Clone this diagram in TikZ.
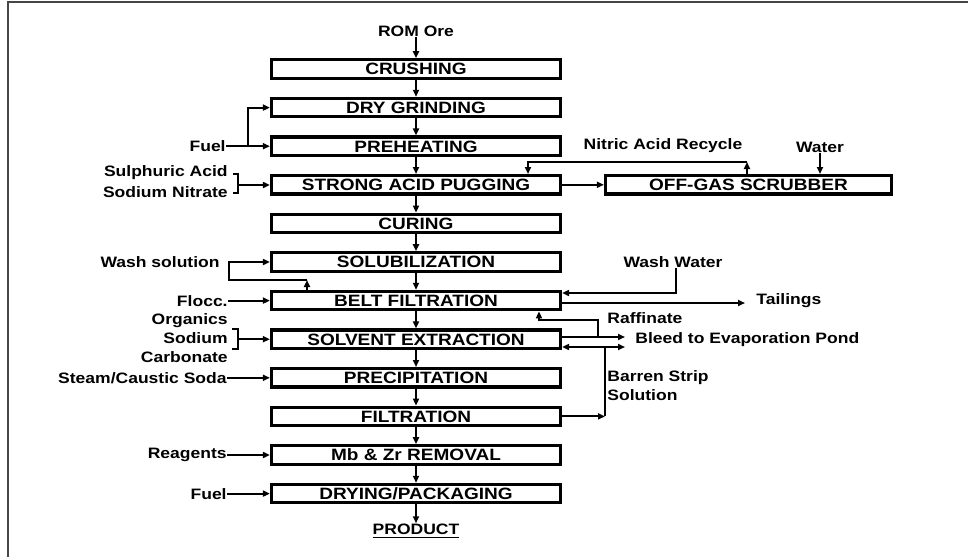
\documentclass[tikz,border=0pt]{standalone}
\usepackage{fontspec}
\setmainfont{Liberation Sans}[FakeStretch=1.16]
\usepackage{xcolor}
\usepackage{tikz}
\usetikzlibrary{arrows.meta,positioning}
\definecolor{cinzaescuro}{RGB}{70,70,70}
\tikzset{
  etapa/.style={rectangle,draw=black,line width=1.6pt,minimum width=144.5pt,
    minimum height=9.2pt,inner sep=0pt,text height=5.9pt,text depth=0pt,
    font=\fontsize{8.2}{9}\selectfont\bfseries},
  rotulo/.style={inner sep=0pt,font=\fontsize{7.55}{9.5}\selectfont\bfseries},
  fluxo/.style={-{Triangle[length=3.5pt,width=3pt]},line width=1pt,black},
  linha/.style={line width=1pt,black}
}
\begin{document}
\begin{tikzpicture}[x=0.5pt,y=-0.5pt]
\useasboundingbox (0,0) rectangle (968,557);
% moldura
\draw[cinzaescuro,line width=1pt] (8,557) -- (8,2) -- (968,2);

% coluna principal
\node[rotulo] (rom) at (416,31) {ROM Ore};
\node[etapa] (crush) at (416,69) {CRUSHING};
\node[etapa] (grind) at (416,107.6) {DRY GRINDING};
\node[etapa] (preheat) at (416,146.2) {PREHEATING};
\node[etapa] (pug) at (416,184.8) {STRONG ACID PUGGING};
\node[etapa] (cure) at (416,223.4) {CURING};
\node[etapa] (solub) at (416,262) {SOLUBILIZATION};
\node[etapa] (belt) at (416,300.6) {BELT FILTRATION};
\node[etapa] (solvent) at (416,339.2) {SOLVENT EXTRACTION};
\node[etapa] (precip) at (416,377.8) {PRECIPITATION};
\node[etapa] (filt) at (416,416.4) {FILTRATION};
\node[etapa] (mbzr) at (416,455) {Mb \& Zr REMOVAL};
\node[etapa] (dry) at (416,493.6) {DRYING/PACKAGING};
\node[rotulo] (product) at (416,531) {\underline{PRODUCT}};
\node[etapa,minimum width=143pt] (scrub) at (748.5,184.8) {OFF-GAS SCRUBBER};

\draw[fluxo] (rom) -- (crush);
\draw[fluxo] (crush) -- (grind);
\draw[fluxo] (grind) -- (preheat);
\draw[fluxo] (preheat) -- (pug);
\draw[fluxo] (pug) -- (cure);
\draw[fluxo] (cure) -- (solub);
\draw[fluxo] (solub) -- (belt);
\draw[fluxo] (belt) -- (solvent);
\draw[fluxo] (solvent) -- (precip);
\draw[fluxo] (precip) -- (filt);
\draw[fluxo] (filt) -- (mbzr);
\draw[fluxo] (mbzr) -- (dry);
\draw[fluxo] (dry) -- (product);

% entradas a esquerda
\node[rotulo,anchor=east] (fuela) at (226,146) {Fuel};
\coordinate (fuelsplit) at (248,146);
\draw[fluxo] (fuela.east |- preheat) -- (preheat);
\draw[fluxo] (fuelsplit) |- (grind.west);

\node[rotulo,anchor=east] (sulph) at (228,173) {Sulphuric Acid};
\node[rotulo,anchor=east] (nitrate) at (228,192) {Sodium Nitrate};
\coordinate (chavea) at (238,185);
\draw[linha] (233,174) -- (238,174) -- (238,193) -- (233,193);
\draw[fluxo] (chavea) -- (pug.west |- chavea);

\node[rotulo,anchor=east] (washsol) at (220,262) {Wash solution};
\coordinate (washsplit) at (229,262);
\coordinate (washturn) at (307,280);
\draw[fluxo] (washturn |- belt.north) -- (washturn);
\draw[fluxo] (washturn) -| (washsplit) -- (solub.west);

\node[rotulo,anchor=east] (flocc) at (228,300.6) {Flocc.};
\draw[fluxo] (flocc) -- (belt);

\node[rotulo,anchor=east,align=right] (organics) at (228,338)
  {Organics\\Sodium\\Carbonate};
\coordinate (chaveb) at (238,339.2);
\draw[linha] (232,329) -- (238,329) -- (238,349) -- (232,349);
\draw[fluxo] (chaveb) -- (solvent.west |- chaveb);

\node[rotulo,anchor=east] (steam) at (227,377.8) {Steam/Caustic Soda};
\draw[fluxo] (steam) -- (precip);
\node[rotulo,anchor=east] (reagents) at (227,455) {Reagents};
\draw[fluxo] (reagents) -- (mbzr);
\node[rotulo,anchor=east] (fuelb) at (227,493.6) {Fuel};
\draw[fluxo] (fuelb) -- (dry);

% gases e reciclo de acido
\node[rotulo] (nitric) at (663,146) {Nitric Acid Recycle};
\node[rotulo] (water) at (820,147) {Water};
\coordinate (recturn) at (747,162);
\draw[fluxo] (pug) -- (scrub);
\draw[fluxo] (recturn |- scrub.north) -- (recturn);
\draw[fluxo] (recturn) -| ([xshift=56pt]pug.north);
\draw[fluxo] (water.south) -- (water.south |- scrub.north);

% saidas a direita
\node[rotulo] (washwater) at (673,262) {Wash Water};
\coordinate (wwturn) at (676,293);
\draw[fluxo] (wwturn |- washwater.south) -- (wwturn) -- (belt.east |- wwturn);

\node[rotulo,anchor=west] (tailings) at (756,301) {Tailings};
\coordinate (tailend) at (745,303);
\draw[fluxo] (belt.east |- tailend) -- (tailend);

\node[rotulo,anchor=west] (raffinate) at (607,318) {Raffinate};
\node[rotulo,anchor=west] (bleed) at (635,340) {Bleed to Evaporation Pond};
\node[rotulo,anchor=west,align=left] (barren) at (607,386) {Barren Strip\\Solution};
\coordinate (raffsplit) at (598,337);
\coordinate (raffturn) at (598,320);
\coordinate (bleedup) at (625,337);
\coordinate (bleeddown) at (625,347);
\coordinate (barrensplit) at (605,347);
\draw[fluxo] (solvent.east |- bleedup) -- (bleedup);
\draw[fluxo] (raffsplit) -- (raffturn) -| ([xshift=61.5pt]belt.south);
\draw[fluxo] (barrensplit) -- (bleeddown);
\draw[fluxo] (barrensplit) -- (solvent.east |- barrensplit);
\draw[linha] (barrensplit) -- (barrensplit |- filt.east);
\draw[fluxo] (filt.east) -- (barrensplit |- filt.east);
\end{tikzpicture}
\end{document}
